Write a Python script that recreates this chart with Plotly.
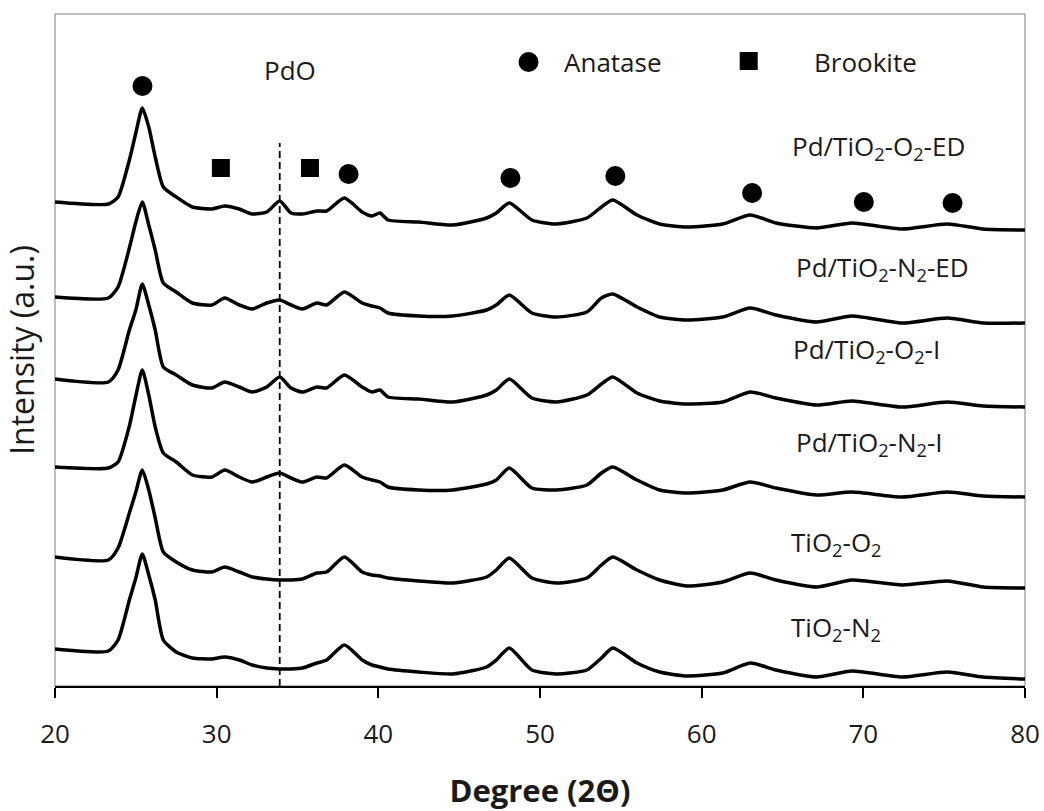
import plotly.graph_objects as go

# 2-theta grid (degrees) shared by all patterns
two_theta = [20.0, 23.3, 23.9, 24.6, 25.0, 25.4, 25.8, 26.2, 26.7, 27.5, 28.5, 29.7,
             30.5, 31.4, 32.2, 33.1, 33.9, 34.6, 35.3, 36.2, 36.8, 37.9, 39.0, 39.6,
             40.1, 40.6, 42.5, 44.6, 46.7, 47.3, 48.1, 49.5, 51.0, 52.9, 53.8, 54.5,
             56.0, 57.4, 59.1, 61.3, 63.0, 64.6, 67.1, 69.3, 72.4, 75.2, 77.4, 80.0]

# Stacked intensities (a.u.), top pattern first
pd_o2_ed = [484, 482, 489, 526, 553, 578, 559, 529, 499, 489, 479, 477,
            480, 477, 472, 474, 485, 473, 472, 475, 475, 488, 474, 470,
            473, 466, 464, 461, 468, 473, 483, 466, 462, 468, 479, 486,
            471, 462, 459, 462, 471, 463, 458, 463, 457, 462, 457, 456]
pd_n2_ed = [389, 388, 399, 438, 464, 484, 461, 436, 403, 394, 383, 381,
            388, 381, 377, 383, 386, 381, 377, 383, 381, 394, 383, 380,
            378, 373, 370, 370, 376, 381, 391, 373, 369, 374, 388, 392,
            379, 369, 366, 369, 378, 371, 364, 370, 363, 368, 363, 363]
pd_o2_i = [307, 304, 316, 356, 376, 402, 381, 356, 319, 311, 301, 298,
           304, 299, 294, 299, 309, 298, 294, 299, 298, 311, 299, 294,
           296, 289, 287, 284, 291, 296, 307, 288, 284, 291, 302, 309,
           293, 285, 282, 284, 294, 288, 281, 285, 279, 284, 280, 279]
pd_n2_i = [219, 218, 224, 260, 290, 316, 291, 259, 233, 224, 211, 209,
           216, 209, 204, 209, 213, 208, 204, 209, 208, 221, 209, 206,
           204, 199, 196, 196, 202, 206, 218, 198, 196, 201, 213, 219,
           206, 196, 193, 196, 204, 198, 191, 194, 189, 194, 190, 189]
tio2_o2 = [129, 126, 138, 173, 194, 216, 196, 168, 134, 124, 116, 114,
           119, 114, 109, 107, 106, 106, 107, 113, 114, 129, 114, 111,
           110, 108, 105, 103, 109, 116, 128, 108, 103, 108, 121, 129,
           116, 106, 100, 104, 113, 106, 99, 106, 101, 105, 99, 98]
tio2_n2 = [37, 35, 46, 86, 108, 132, 111, 86, 46, 34, 28, 27,
           29, 26, 21, 18, 17, 17, 18, 23, 26, 41, 26, 21,
           19, 17, 14, 12, 19, 26, 38, 16, 12, 16, 28, 38,
           23, 14, 10, 13, 23, 16, 9, 15, 9, 14, 9, 7]

patterns = [pd_o2_ed, pd_n2_ed, pd_o2_i, pd_n2_i, tio2_o2, tio2_n2]

# Phase markers
anatase_x = [25.41, 38.16, 48.17, 54.66, 63.12, 70.03, 75.52]
anatase_y = [600, 512, 508, 510, 493, 484, 483]
brookite_x = [30.26, 35.77]
brookite_y = [518, 518]
pdo_position = 33.9

# Sample labels
sample_labels = ["Pd/TiO<sub>2</sub>-O<sub>2</sub>-ED", "Pd/TiO<sub>2</sub>-N<sub>2</sub>-ED",
                 "Pd/TiO<sub>2</sub>-O<sub>2</sub>-I", "Pd/TiO<sub>2</sub>-N<sub>2</sub>-I",
                 "TiO<sub>2</sub>-O<sub>2</sub>", "TiO<sub>2</sub>-N<sub>2</sub>"]
label_x = [65.45, 65.70, 65.51, 65.70, 65.39, 65.39]
label_y = [539, 418, 336, 243, 143, 58]

FONT = "Open Sans, Noto Sans, sans-serif"
FS = 26
TEXT = "#1a1a1a"

fig = go.Figure()

for ys in patterns:
    fig.add_trace(go.Scatter(x=two_theta, y=ys, mode="lines",
                             line=dict(color="black", width=3.5, shape="spline", smoothing=0.6),
                             hoverinfo="skip", showlegend=False))

fig.add_trace(go.Scatter(x=anatase_x, y=anatase_y, mode="markers",
                         marker=dict(symbol="circle", size=20, color="black"),
                         showlegend=False))
fig.add_trace(go.Scatter(x=brookite_x, y=brookite_y, mode="markers",
                         marker=dict(symbol="square", size=18, color="black"),
                         showlegend=False))

# Key symbols
fig.add_trace(go.Scatter(x=[49.29], y=[624], mode="markers",
                         marker=dict(symbol="circle", size=20, color="black"), showlegend=False))
fig.add_trace(go.Scatter(x=[62.91], y=[625], mode="markers",
                         marker=dict(symbol="square", size=18, color="black"), showlegend=False))

annotations = [
    dict(x=51.39, y=624, text="Anatase", xanchor="left", yanchor="middle", showarrow=False),
    dict(x=66.81, y=624, text="Brookite", xanchor="left", yanchor="middle", showarrow=False),
    dict(x=34.55, y=616, text="PdO", xanchor="center", yanchor="middle", showarrow=False),
]
for t, lx, ly in zip(sample_labels, label_x, label_y):
    annotations.append(dict(x=lx, y=ly, text=t, xanchor="left", yanchor="middle", showarrow=False))
for a in annotations:
    a["font"] = dict(family=FONT, size=FS, color=TEXT)

shapes = [
    dict(type="rect", xref="paper", yref="paper", x0=0, x1=1, y0=0, y1=1,
         line=dict(color="#7f7f7f", width=1), layer="below"),
    dict(type="line", xref="x", yref="y", x0=pdo_position, x1=pdo_position, y0=0, y1=543,
         line=dict(color="black", width=1.8, dash="7px,4px"), layer="below"),
]

fig.update_layout(
    width=1044, height=811,
    margin=dict(l=55, r=19, t=14, b=125, autoexpand=False),
    paper_bgcolor="white", plot_bgcolor="white",
    font=dict(family=FONT, size=FS, color=TEXT),
    annotations=annotations, shapes=shapes,
    xaxis=dict(range=[20, 80], tickmode="array", tickvals=[20, 30, 40, 50, 60, 70, 80],
               ticks="outside", ticklen=10, tickwidth=1.5, tickcolor="black",
               showline=True, linecolor="black", linewidth=2, showgrid=False, zeroline=False,
               ticklabelstandoff=14, automargin=False, ticklabeloverflow="allow",
               title=dict(text="<b>Degree (2Θ)</b>", standoff=48,
                          font=dict(family=FONT, size=31, color=TEXT))),
    yaxis=dict(range=[0, 672], showticklabels=False, ticks="", showgrid=False,
               zeroline=False, showline=False, automargin=False,
               title=dict(text="Intensity (a.u.)", standoff=10,
                          font=dict(family=FONT, size=32, color=TEXT))),
)

fig.write_html("out.html")
